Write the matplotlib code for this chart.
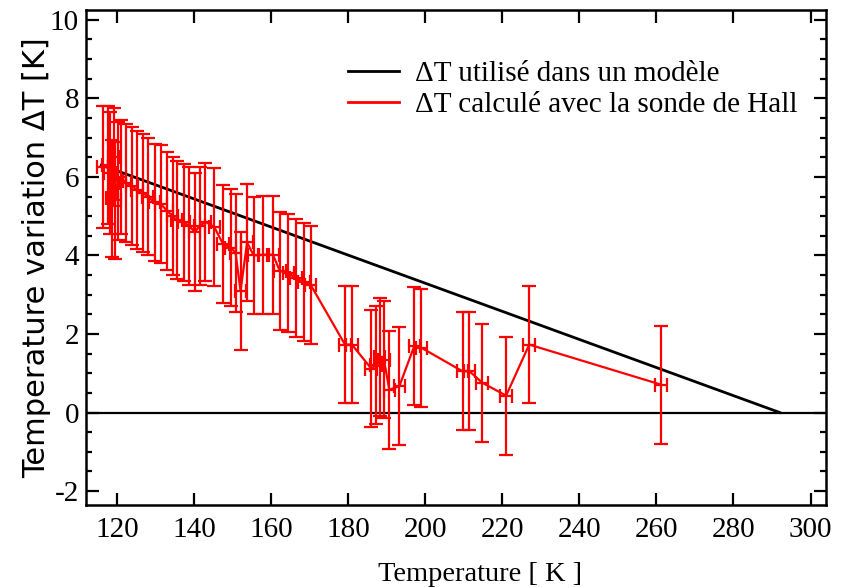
import matplotlib
matplotlib.use("Agg")
import matplotlib.pyplot as plt
from matplotlib.lines import Line2D
from matplotlib.ticker import MultipleLocator

plt.rcParams["axes.unicode_minus"] = False

# ---- data ----
temp_K = [116.3, 117.6, 118.2, 118.7, 119.2, 119.6, 120.2, 121.0, 122.3, 124.0,
          125.2, 126.7, 128.0, 129.8, 131.5, 133.0, 134.5, 135.5, 137.4, 138.8,
          140.2, 141.5, 143.0, 145.3, 147.5, 149.5, 150.8, 152.1, 153.8, 155.5,
          158.0, 160.5, 162.3, 164.5, 166.5, 168.5, 170.3,
          179.2, 181.0, 186.0, 187.2, 188.2, 189.3, 190.7, 193.3, 197.2, 199.0,
          209.7, 211.5, 214.8, 221.0, 227.0, 261.2]
dT_K = [6.25, 6.30, 6.10, 5.45, 6.50, 5.40, 5.90, 6.00, 5.85, 5.77,
        5.66, 5.60, 5.50, 5.35, 5.30, 5.14, 5.00, 4.90, 4.84, 4.75,
        4.60, 4.75, 4.86, 4.72, 4.30, 4.20, 4.07, 3.10, 4.33, 4.00,
        4.02, 4.02, 3.60, 3.55, 3.42, 3.32, 3.25,
        1.73, 1.73, 1.12, 1.20, 1.42, 1.35, 0.58, 0.67, 1.70, 1.65,
        1.05, 1.05, 0.76, 0.43, 1.73, 0.71]
dT_err = [1.55, 1.50, 1.55, 1.50, 1.25, 1.50, 1.50, 1.45, 1.50, 1.50,
          1.50, 1.50, 1.50, 1.50, 1.50, 1.50, 1.50, 1.50, 1.50, 1.50,
          1.50, 1.50, 1.50, 1.50, 1.50, 1.50, 1.50, 1.50, 1.50, 1.50,
          1.50, 1.50, 1.50, 1.50, 1.50, 1.50, 1.50,
          1.50, 1.50, 1.50, 1.50, 1.50, 1.50, 1.50, 1.50, 1.50, 1.50,
          1.50, 1.50, 1.50, 1.50, 1.50, 1.50]
temp_err = 1.5

model_T = [116.0, 292.0]
model_dT = [6.3, 0.0]

x_ticks = [120, 140, 160, 180, 200, 220, 240, 260, 280, 300]
y_ticks = [-2, 0, 2, 4, 6, 8, 10]

legend_labels = ["\u0394T utilisé dans un modèle",
                 "\u0394T calculé avec la sonde de Hall"]
x_label = "Temperature [ K ]"
y_label = "Temperature variation \u0394T [K]"

# ---- figure ----
fig = plt.figure(figsize=(8.54, 5.87), dpi=100)
ax = fig.add_axes([0.1007, 0.140, 0.8665, 0.843])

serif = "Liberation Serif"

ax.axhline(0, color="black", lw=1.6, zorder=1)
ax.plot(model_T, model_dT, color="black", lw=2.0, zorder=2)
ax.errorbar(temp_K, dT_K, yerr=dT_err, xerr=temp_err, color="#ff0000",
            lw=1.6, elinewidth=1.6, capsize=5, capthick=1.6, zorder=3)

ax.set_xlim(112, 304)
ax.set_ylim(-2.35, 10.25)
ax.set_xticks(x_ticks)
ax.set_yticks(y_ticks)
ax.yaxis.set_minor_locator(MultipleLocator(0.5))
ax.tick_params(which="both", direction="in", top=True, right=True, width=1.6)
ax.tick_params(which="major", length=9)
ax.tick_params(which="minor", length=4.5)
ax.tick_params(axis="x", which="major", pad=9)
ax.tick_params(axis="y", which="major", pad=5)
for sp in ax.spines.values():
    sp.set_linewidth(1.8)

for lab in ax.get_xticklabels() + ax.get_yticklabels():
    lab.set_fontfamily(serif)
    lab.set_fontsize(21)

ax.set_xlabel(x_label, fontfamily=serif, fontsize=20.5)
ax.xaxis.set_label_coords(0.532, -0.115)
ax.xaxis.label.set_va("top")
ax.set_ylabel(y_label, fontfamily="DejaVu Sans", fontsize=22, labelpad=-1)

handles = [Line2D([], [], color="black", lw=2.0),
           Line2D([], [], color="#ff0000", lw=2.0)]
ax.legend(handles, legend_labels, loc="upper left", frameon=False,
          prop={"family": serif, "size": 21}, handlelength=1.75,
          handletextpad=0.55, borderaxespad=0, borderpad=0,
          bbox_to_anchor=(0.354, 0.897), labelspacing=0.15)

fig.savefig("out.png", dpi=100)
